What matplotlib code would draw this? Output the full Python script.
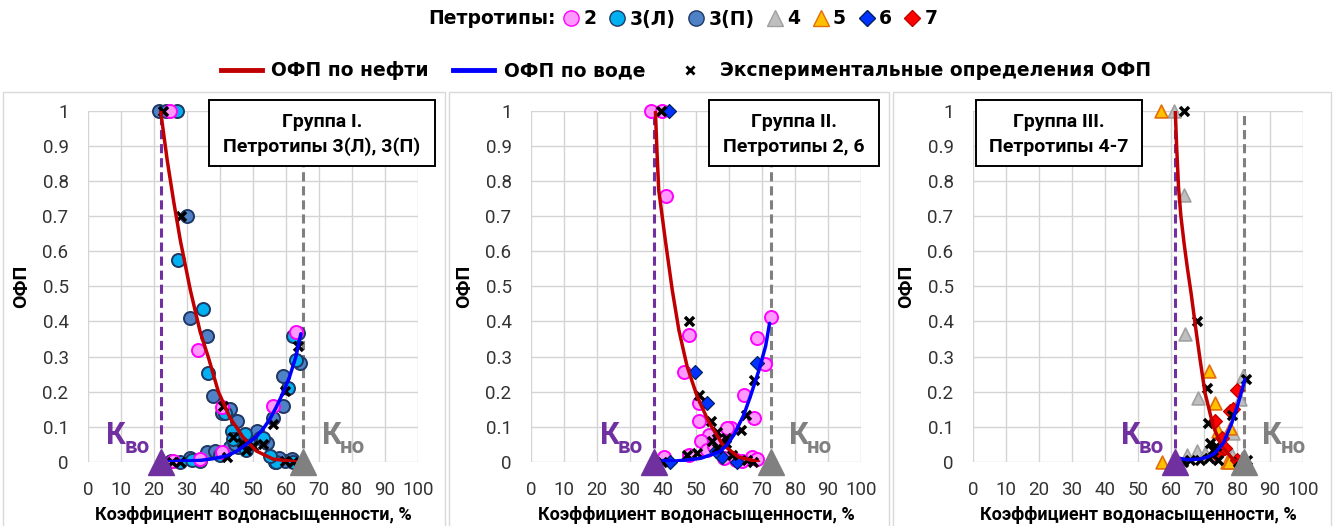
import matplotlib.pyplot as plt
from matplotlib.lines import Line2D
from matplotlib.patches import Rectangle

plt.rcParams['font.family'] = ['Roboto', 'DejaVu Sans']

# ---------- Group I (petrotypes 3L, 3P) ----------
g1_kvo, g1_kno = 22.0, 65.3
g1_t3l_x = [23.5, 26.9, 27.4, 34.9, 36.5, 41.4, 43.5, 44.0, 47.6, 53.0, 57.0, 62.0, 28.0, 31.5,
            40.0, 48.0, 55.0, 60.5, 62.0, 63.0]
g1_t3l_y = [1.0, 1.0, 0.575, 0.435, 0.254, 0.14, 0.088, 0.065, 0.079, 0.069, 0.0, 0.0, 0.0, 0.005,
            0.02, 0.035, 0.017, 0.21, 0.36, 0.29]
g1_t3p_x = [21.5, 29.9, 30.9, 36.2, 38.0, 40.5, 43.0, 45.1, 51.1, 52.1, 54.1, 49.0, 45.6, 59.2,
            59.2, 63.7, 64.2, 56.2, 30.9, 36.0, 38.5, 43.0, 44.6, 56.7, 59.7, 61.7, 25.0, 34.0,
            48.5, 58.0]
g1_t3p_y = [1.0, 0.70, 0.411, 0.359, 0.188, 0.14, 0.15, 0.117, 0.088, 0.069, 0.055, 0.055, 0.041,
            0.245, 0.158, 0.368, 0.283, 0.126, 0.012, 0.027, 0.031, 0.041, 0.05, 0.0, 0.003, 0.008,
            0.003, 0.003, 0.06, 0.01]
g1_t2_x = [24.8, 33.4, 40.5, 56.2, 25.9, 33.9, 40.5, 63.0]
g1_t2_y = [1.0, 0.318, 0.155, 0.16, 0.003, 0.008, 0.027, 0.37]
g1_exp_x = [22.8, 28.2, 40.8, 46.6, 50.1, 56.2, 59.7, 63.7, 27.9, 59.7, 62.0, 44.0, 53.0, 48.0,
            42.0, 25.5]
g1_exp_y = [1.0, 0.70, 0.16, 0.055, 0.046, 0.107, 0.202, 0.33, 0.0, 0.003, 0.0, 0.07, 0.05, 0.035,
            0.015, 0.0]
g1_oil_x = [22, 24, 26, 28, 31, 34, 36.5, 39.5, 43, 47, 51, 56, 63]
g1_oil_y = [1.0, 0.86, 0.74, 0.63, 0.49, 0.37, 0.297, 0.20, 0.126, 0.07, 0.031, 0.008, 0.0]
g1_wat_x = [24, 28, 34, 38, 42, 45, 48, 51, 53, 55, 57, 59, 61, 63, 64.5]
g1_wat_y = [0.0, 0.002, 0.004, 0.009, 0.017, 0.03, 0.05, 0.072, 0.093, 0.12, 0.155, 0.195, 0.24,
            0.30, 0.365]

# ---------- Group II (petrotypes 2, 6) ----------
g2_kvo, g2_kno = 37.4, 72.6
g2_t2_x = [36.5, 39.7, 40.9, 47.8, 46.3, 50.9, 50.9, 72.6, 68.6, 70.8, 64.5, 67.6, 60.5, 53.9,
           59.5, 51.4, 47.8, 53.4, 58.4, 67.0, 68.5, 40.2, 64.0, 55.5, 57.0, 62.0]
g2_t2_y = [1.0, 1.0, 0.758, 0.362, 0.257, 0.167, 0.115, 0.414, 0.352, 0.279, 0.19, 0.124, 0.096,
           0.077, 0.096, 0.058, 0.02, 0.034, 0.01, 0.015, 0.008, 0.015, 0.003, 0.045, 0.06, 0.005]
g2_t6_x = [41.9, 49.6, 53.4, 68.6, 58.0, 62.5, 42.2, 56.0]
g2_t6_y = [1.0, 0.257, 0.167, 0.281, 0.015, 0.0, 0.0, 0.03]
g2_exp_x = [39.4, 47.8, 50.9, 54.6, 67.6, 65.0, 63.5, 56.4, 59.0, 54.9, 59.0, 47.3, 50.4, 56.4,
            61.0, 65.6, 67.3, 39.7]
g2_exp_y = [1.0, 0.40, 0.19, 0.115, 0.234, 0.134, 0.091, 0.085, 0.068, 0.058, 0.053, 0.02, 0.025,
            0.039, 0.02, 0.006, 0.0, 0.0]
g2_oil_x = [37.7, 38.2, 38.7, 40.7, 42.8, 44.8, 47.3, 50.4, 53.9, 58, 63, 69]
g2_oil_y = [1.0, 0.88, 0.775, 0.632, 0.49, 0.376, 0.272, 0.185, 0.113, 0.05, 0.013, 0.0]
g2_wat_x = [40, 43.3, 47, 51.4, 54.5, 57.4, 59.5, 61.5, 64.5, 66.6, 69.1, 71.1, 72.3]
g2_wat_y = [0.004, 0.002, 0.005, 0.01, 0.02, 0.03, 0.05, 0.077, 0.134, 0.19, 0.262, 0.33, 0.395]

# ---------- Group III (petrotypes 4-7) ----------
g3_kvo, g3_kno = 61.3, 82.2
g3_t4_x = [61.0, 64.0, 64.3, 68.1, 81.7, 81.0, 78.7, 67.8, 64.8, 70.3, 81.4, 78.5]
g3_t4_y = [1.0, 0.76, 0.364, 0.183, 0.244, 0.18, 0.082, 0.03, 0.02, 0.025, 0.01, 0.02]
g3_t5_x = [57.0, 71.6, 73.2, 74.3, 77.9, 57.4, 76.9, 77.5, 75.5, 73.0]
g3_t5_y = [1.0, 0.259, 0.168, 0.087, 0.096, 0.0, 0.0, 0.0, 0.05, 0.03]
g3_t7_x = [79.9, 77.9, 73.3, 75.4, 79.9, 76.5, 74.0, 78.8]
g3_t7_y = [0.206, 0.144, 0.115, 0.068, 0.006, 0.04, 0.02, 0.15]
g3_exp_x = [64.0, 67.8, 70.8, 82.7, 78.5, 71.3, 71.8, 72.8, 65.8, 68.8, 71.5, 74.3, 80.2, 63.7,
            83.0, 73.5]
g3_exp_y = [1.0, 0.40, 0.211, 0.235, 0.134, 0.111, 0.054, 0.034, 0.006, 0.006, 0.011, 0.006, 0.0,
            0.0, 0.005, 0.045]
g3_oil_x = [61.3, 61.7, 62.3, 63, 64, 65, 66.1, 67.5, 68.8, 70.3, 72.8, 75.4, 78.9, 81.5]
g3_oil_y = [1.0, 0.9, 0.78, 0.70, 0.62, 0.55, 0.48, 0.38, 0.292, 0.197, 0.101, 0.044, 0.006, 0.0]
g3_wat_x = [62.5, 65, 68.8, 71.5, 73.3, 75.9, 78.4, 80.4, 82.4]
g3_wat_y = [0.01, 0.006, 0.008, 0.015, 0.025, 0.054, 0.11, 0.168, 0.235]

x_ticks = [0, 10, 20, 30, 40, 50, 60, 70, 80, 90, 100]
y_ticks = [0, 0.1, 0.2, 0.3, 0.4, 0.5, 0.6, 0.7, 0.8, 0.9, 1]
y_tick_labels = ['0', '0.1', '0.2', '0.3', '0.4', '0.5', '0.6', '0.7', '0.8', '0.9', '1']

type_labels = ['2', '3(Л)', '3(П)', '4', '5', '6', '7']
titles = [('Группа I.', 'Петротипы 3(Л), 3(П)'),
          ('Группа II.', 'Петротипы 2, 6'),
          ('Группа III.', 'Петротипы 4-7')]

# marker styles per petrotype
ST = {
    '2':    dict(marker='o', s=88, facecolors='#ff99ff', edgecolors='#ff00ff', linewidths=1.4),
    '3(Л)': dict(marker='o', s=88, facecolors='#00b0f0', edgecolors='#1f3864', linewidths=1.4),
    '3(П)': dict(marker='o', s=88, facecolors='#4f81c6', edgecolors='#1f3864', linewidths=1.4),
    '4':    dict(marker='^', s=85, facecolors='#bfbfbf', edgecolors='#a0a0a0', linewidths=1.2),
    '5':    dict(marker='^', s=85, facecolors='#ffc000', edgecolors='#e46c0a', linewidths=1.2),
    '6':    dict(marker='D', s=50, facecolors='#0033ff', edgecolors='#002060', linewidths=0.9),
    '7':    dict(marker='D', s=50, facecolors='#ff0000', edgecolors='#c00000', linewidths=0.9),
}
PURPLE = '#7030a0'
GREY = '#808080'
W, H = 1336, 526


def draw_panel(ax, series, exp_x, exp_y, oil_x, oil_y, wat_x, wat_y, kvo, kno):
    ax.set_xlim(0, 100)
    ax.set_ylim(0, 1)
    ax.set_xticks(x_ticks)
    ax.set_yticks(y_ticks)
    ax.set_yticklabels(y_tick_labels)
    ax.grid(True, color='#d4d4d4', lw=1.0)
    ax.set_axisbelow(True)
    for s in ax.spines.values():
        s.set_visible(False)
    ax.tick_params(length=0, labelsize=13.5, colors='#333333')
    ax.tick_params(axis='x', pad=14)
    ax.tick_params(axis='y', pad=14)

    ax.plot([kvo, kvo], [0, 1], color=PURPLE, lw=2.2, ls=(0, (3, 1.6)), zorder=2)
    ax.plot([kno, kno], [0, 1], color=GREY, lw=2.2, ls=(0, (3, 1.6)), zorder=2)

    for key, xs, ys in series:
        ax.scatter(xs, ys, zorder=3, clip_on=False, **ST[key])
    ax.scatter(exp_x, exp_y, marker='x', c='black', s=42, linewidths=2.5, zorder=4, clip_on=False)

    ax.plot(oil_x, oil_y, color='#c00000', lw=2.5, zorder=5, solid_capstyle='round')
    ax.plot(wat_x, wat_y, color='#0000ff', lw=2.5, zorder=5, solid_capstyle='round')

    ax.plot([kvo], [0], marker='^', ms=19, color=PURPLE, clip_on=False, zorder=7)
    ax.plot([kno], [0], marker='^', ms=19, color=GREY, clip_on=False, zorder=7)

    # К_во / К_но labels
    ax.annotate('К', (kvo - 16.5, 0.05), color=PURPLE, fontsize=22, weight='bold', ha='left',
                va='baseline')
    ax.annotate('во', (kvo - 16.5, 0.024), xytext=(13, 0), textcoords='offset points',
                color=PURPLE, fontsize=16, weight='bold', ha='left', va='baseline')
    ax.annotate('К', (kno + 5.5, 0.05), color=GREY, fontsize=22, weight='bold', ha='left',
                va='baseline')
    ax.annotate('но', (kno + 5.5, 0.024), xytext=(13, 0), textcoords='offset points',
                color=GREY, fontsize=16, weight='bold', ha='left', va='baseline')

    ax.set_ylabel('ОФП', fontsize=14, weight='bold')
    ax.yaxis.set_label_coords(-0.176, 0.5)
    ax.set_xlabel('Коэффициент водонасыщенности, %', fontsize=13, weight='bold')
    ax.xaxis.set_label_coords(0.5, -0.125)


fig = plt.figure(figsize=(13.36, 5.26), dpi=100)

ax_left = [88, 531, 973]
axes = [fig.add_axes([l / W, 0.122, 330 / W, 0.667]) for l in ax_left]

draw_panel(axes[0], [('3(П)', g1_t3p_x, g1_t3p_y), ('3(Л)', g1_t3l_x, g1_t3l_y),
                     ('2', g1_t2_x, g1_t2_y)],
           g1_exp_x, g1_exp_y, g1_oil_x, g1_oil_y, g1_wat_x, g1_wat_y, g1_kvo, g1_kno)
draw_panel(axes[1], [('2', g2_t2_x, g2_t2_y), ('6', g2_t6_x, g2_t6_y)],
           g2_exp_x, g2_exp_y, g2_oil_x, g2_oil_y, g2_wat_x, g2_wat_y, g2_kvo, g2_kno)
draw_panel(axes[2], [('4', g3_t4_x, g3_t4_y), ('5', g3_t5_x, g3_t5_y), ('7', g3_t7_x, g3_t7_y)],
           g3_exp_x, g3_exp_y, g3_oil_x, g3_oil_y, g3_wat_x, g3_wat_y, g3_kvo, g3_kno)

# light panel frames
for x0, x1 in [(3, 445), (449, 889), (893, 1331)]:
    fig.patches.append(Rectangle((x0 / W, -0.01), (x1 - x0) / W, 1 - 92 / H + 0.01,
                                 transform=fig.transFigure, fill=False, ec='#d9d9d9', lw=1.0))

# title boxes
for (x0, x1), (t1, t2) in zip([(209, 435), (709, 879), (976, 1142)], titles):
    fig.patches.append(Rectangle((x0 / W, 1 - 166 / H), (x1 - x0) / W, 66 / H,
                                 transform=fig.transFigure, fc='white', ec='black', lw=1.4,
                                 zorder=8))
    xc = (x0 + x1) / 2 / W
    fig.text(xc, 1 - 122 / H, t1, ha='center', va='center', fontsize=14, weight='bold', zorder=9)
    fig.text(xc, 1 - 147 / H, t2, ha='center', va='center', fontsize=14, weight='bold', zorder=9)

# legend row 1: petrotypes
h1 = [Line2D([], [], ls='none', marker=ST[k]['marker'], ms=11 if ST[k]['marker'] != 'D' else 8,
             mfc=ST[k]['facecolors'], mec=ST[k]['edgecolors'], mew=1.0) for k in type_labels]
fig.text(556 / W, 1 - 19 / H, 'Петротипы:', ha='right', va='center', fontsize=13.5,
         weight='bold', family=['DejaVu Sans'])
fig.legend(h1, type_labels, loc='center left', bbox_to_anchor=(562 / W, 1 - 19 / H), ncol=7,
           frameon=False, handletextpad=0.15, columnspacing=0.6, handlelength=1.0,
           borderpad=0, borderaxespad=0,
           prop=dict(weight='bold', size=13.5, family=['DejaVu Sans']))

# legend row 2: curves
h2 = [Line2D([], [], color='#c00000', lw=3.5),
      Line2D([], [], color='#0000ff', lw=3.5),
      Line2D([], [], ls='none', marker='x', color='black', ms=6, mew=2)]
fig.legend(h2, ['ОФП по нефти', 'ОФП по воде', 'Экспериментальные определения ОФП'],
           loc='center', bbox_to_anchor=(686 / W, 1 - 71 / H), ncol=3, frameon=False,
           handletextpad=0.5, columnspacing=1.3, handlelength=2.2, borderpad=0,
           prop=dict(weight='bold', size=13.5, family=['DejaVu Sans']))

fig.savefig('out.png', dpi=100)
